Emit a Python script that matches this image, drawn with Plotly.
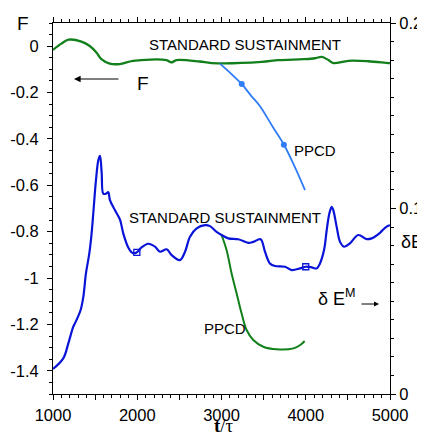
import plotly.graph_objects as go

# ---- data ----
t_F_std = [1000, 1099, 1186, 1337, 1436, 1515, 1574, 1673, 1792, 1950, 2346, 2405, 2464, 2741, 2883,
           3477, 3675, 3972, 4110, 4190, 4269, 4328, 4506, 4743, 4981, 5000]
F_std = [-0.016, 0.011, 0.028, 0.020, 0.001, -0.027, -0.056, -0.075, -0.077, -0.063, -0.060, -0.070,
         -0.060, -0.066, -0.073, -0.068, -0.060, -0.056, -0.052, -0.046, -0.060, -0.073, -0.063,
         -0.065, -0.073, -0.073]

t_F_ppcd = [2982, 3100, 3239, 3350, 3457, 3600, 3742, 3870, 3991]
F_ppcd = [-0.075, -0.114, -0.163, -0.213, -0.259, -0.343, -0.425, -0.521, -0.621]
t_F_mark = [3240, 3740]
F_mark = [-0.163, -0.425]

t_dE_std = [1000, 1122, 1182, 1241, 1273, 1328, 1360, 1391, 1431, 1458, 1478, 1510, 1538, 1558, 1578,
            1597, 1629, 1656, 1676, 1736, 1795, 1834, 1893, 1945, 1992, 2051, 2130, 2210, 2270, 2349,
            2408, 2507, 2567, 2626, 2705, 2804, 2863, 2942, 3001, 3080, 3199, 3318, 3377, 3464, 3516,
            3575, 3635, 3754, 3833, 3932, 4003, 4070, 4130, 4169, 4217, 4249, 4280, 4308, 4327, 4367,
            4407, 4454, 4525, 4623, 4722, 4782, 4881, 4941, 4980, 5000]
dE_std = [0.0135, 0.0192, 0.0273, 0.0363, 0.0393, 0.0453, 0.0524, 0.065, 0.0758, 0.0865, 0.0973, 0.1153,
          0.126, 0.1284, 0.119, 0.108, 0.108, 0.1088, 0.1045, 0.099, 0.094, 0.0866, 0.079, 0.076, 0.0763,
          0.079, 0.081, 0.0794, 0.0767, 0.078, 0.0749, 0.0722, 0.0767, 0.0848, 0.0893, 0.091, 0.0905,
          0.0874, 0.0857, 0.0839, 0.0834, 0.0815, 0.082, 0.0834, 0.0767, 0.0704, 0.069, 0.0686, 0.0668,
          0.0677, 0.0686, 0.0683, 0.0677, 0.0704, 0.0776, 0.0884, 0.0973, 0.1009, 0.0991, 0.0901, 0.082,
          0.0794, 0.0812, 0.0857, 0.0835, 0.0839, 0.0869, 0.0896, 0.0907, 0.091]
t_dE_mark = [1995, 4000]
dE_mark = [0.0763, 0.0686]

t_dE_ppcd = [3001, 3060, 3120, 3179, 3238, 3298, 3377, 3496, 3654, 3855, 3935, 3987]
dE_ppcd = [0.0857, 0.0776, 0.065, 0.0543, 0.0435, 0.0345, 0.0291, 0.0255, 0.0241, 0.0246, 0.0264, 0.0286]

# tick label text overrides (hide half-thousand labels, plain hyphen minus)
x_labelalias = {"1500": "", "2500": "", "3500": "", "4500": ""}
yl_labelalias = {"−0.2": "-0.2", "−0.4": "-0.4", "−0.6": "-0.6", "−0.8": "-0.8",
                 "−1": "-1", "−1.2": "-1.2", "−1.4": "-1.4"}

GREEN = "#11801a"
BLUE = "#0a14d8"
LBLUE = "#2f7cf6"
FONT = "Liberation Sans, Arial, sans-serif"
TICKFONT = dict(size=16.5, family=FONT, color="black")

fig = go.Figure()
fig.add_trace(go.Scatter(x=t_F_std, y=F_std, mode="lines", line=dict(color=GREEN, width=2.3),
                         line_shape="spline", yaxis="y"))
fig.add_trace(go.Scatter(x=t_F_ppcd, y=F_ppcd, mode="lines", line=dict(color=LBLUE, width=1.8),
                         line_shape="spline", yaxis="y"))
fig.add_trace(go.Scatter(x=t_F_mark, y=F_mark, mode="markers",
                         marker=dict(color=LBLUE, size=6, symbol="circle"), yaxis="y"))
fig.add_trace(go.Scatter(x=t_dE_ppcd, y=dE_ppcd, mode="lines", line=dict(color=GREEN, width=2.0),
                         line_shape="spline", yaxis="y2"))
fig.add_trace(go.Scatter(x=t_dE_std, y=dE_std, mode="lines", line=dict(color=BLUE, width=2.2),
                         line_shape="spline", yaxis="y2"))
fig.add_trace(go.Scatter(x=t_dE_mark, y=dE_mark, mode="markers",
                         marker=dict(color="rgba(0,0,0,0)", size=6, symbol="square",
                                     line=dict(color=BLUE, width=1.3)), yaxis="y2"))
# invisible trace to activate the top x-axis (ticks only)
fig.add_trace(go.Scatter(x=[t_F_std[0]], y=[F_std[0]], xaxis="x2", yaxis="y", mode="markers",
                         marker=dict(opacity=0), hoverinfo="skip"))

def px_x(px):
    return (px - 53) / 337.0

def px_y(py):
    return (394 - py) / 371.0

ann = []
def txt(text, x, y, size=15, xanchor="center", family=FONT):
    ann.append(dict(text=text, x=px_x(x), y=px_y(y), xref="paper", yref="paper", showarrow=False,
                    xanchor=xanchor, yanchor="middle", font=dict(size=size, color="black", family=family)))

txt("STANDARD SUSTAINMENT", 245, 44, 15)
txt("F", 143, 83, 19)
txt("PPCD", 292, 150, 15, xanchor="left")
txt("STANDARD SUSTAINMENT", 225, 218, 15)
txt("PPCD", 225, 328, 15)
txt("F", 23, 23, 19)
txt("δE", 399, 242, 18, xanchor="left")
txt("δ E<sup>M</sup>", 316, 297, 18, xanchor="left")
txt("<b>t</b>/τ", 224, 425, 19, family="Liberation Serif, Times New Roman, serif")

ann.append(dict(x=px_x(74), y=px_y(79), xref="paper", yref="paper", text="", showarrow=True,
                ax=46, ay=0, arrowhead=2, arrowsize=1.2, arrowwidth=1.1, arrowcolor="black"))
ann.append(dict(x=px_x(379), y=px_y(304), xref="paper", yref="paper", text="", showarrow=True,
                ax=-19, ay=0, arrowhead=2, arrowsize=1.0, arrowwidth=1.0, arrowcolor="black"))

common_x = dict(range=[1000, 5000], tickmode="linear", tick0=1000, dtick=500, ticks="outside",
                ticklen=5, tickwidth=1, tickcolor="black", showline=True, linecolor="black",
                linewidth=1, showgrid=False, zeroline=False,
                minor=dict(dtick=100, ticks="outside", ticklen=3, tickcolor="black", showgrid=False))

# page body has an 8px default margin: shrink the figure so that it fits the 425x435 window
fig.update_layout(
    width=417, height=427,
    margin=dict(l=45, r=35, t=15, b=41, autoexpand=False),
    paper_bgcolor="white", plot_bgcolor="white",
    showlegend=False,
    font=dict(family=FONT, size=15, color="black"),
    annotations=ann,
    xaxis=dict(**common_x, tickfont=TICKFONT, labelalias=x_labelalias, ticklabelstandoff=1),
    xaxis2=dict(**common_x, overlaying="x", side="top", showticklabels=False),
    yaxis=dict(range=[-1.5, 0.1], tickmode="linear", tick0=0, dtick=0.2, labelalias=yl_labelalias,
               ticks="outside", ticklen=5, tickwidth=1, tickcolor="black", showline=True,
               linecolor="black", linewidth=1, showgrid=False, zeroline=False, tickfont=TICKFONT,
               ticklabelstandoff=5,
               minor=dict(dtick=0.05, ticks="outside", ticklen=3, tickcolor="black", showgrid=False)),
    yaxis2=dict(range=[0, 0.2], overlaying="y", side="right", tickmode="linear", tick0=0, dtick=0.1,
                ticks="outside", ticklen=5, tickwidth=1, tickcolor="black",
                showline=True, linecolor="black", linewidth=1, showgrid=False, zeroline=False,
                tickfont=TICKFONT, ticklabelstandoff=0,
                minor=dict(dtick=0.01, ticks="outside", ticklen=3, tickcolor="black", showgrid=False)),
)

fig.write_html("out.html")
